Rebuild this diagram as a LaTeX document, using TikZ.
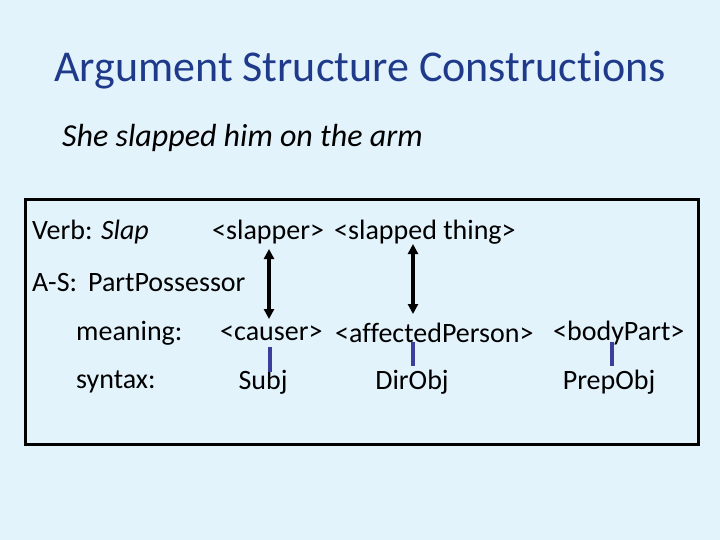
\documentclass[tikz,border=0pt]{standalone}
\usepackage{fontspec}
\setmainfont{Carlito}[RawFeature=-liga]
\usetikzlibrary{arrows.meta}
\definecolor{bg}{HTML}{E3F3FC}
\definecolor{ttl}{HTML}{1F3A8A}
\definecolor{bar}{HTML}{3B3F9C}
\tikzset{txt/.style={anchor=west,inner sep=0pt,font=\fontsize{28}{30}\selectfont},
 ctxt/.style={inner sep=0pt,font=\fontsize{28}{30}\selectfont},
 dbl/.style={line width=3.5pt,{Triangle[length=10pt,width=10pt]}-{Triangle[length=10pt,width=10pt]}},
 barline/.style={bar,line width=3.5pt}}
\begin{document}
\begin{tikzpicture}[x=1pt,y=-1pt]
\fill[bg] (0,0) rectangle (720,540);
\useasboundingbox (0,0) rectangle (720,540);
\node[ttl,font=\fontsize{44}{48}\selectfont,inner sep=0pt] (title) at (360,70) {Argument Structure Constructions};
\node[anchor=west,inner sep=0pt,font=\fontsize{32}{34}\selectfont\itshape] (sent) at (62,138) {She slapped him on the arm};
\node[draw,line width=3pt,minimum width=673pt,minimum height=245pt,anchor=north west,inner sep=0pt] (box) at (24,198) {};
\node[txt] (verb) at (32,232) {Verb: \textit{Slap}};
\node[txt] (slapper) at (212,232) {<slapper>};
\node[txt] (thing) at (334,232) {<slapped thing>};
\node[txt] (as) at (32,283) {A-S:\, PartPossessor};
\node[txt] (meaning) at (76,333) {meaning:};
\node[txt] (causer) at (220,333) {<causer>};
\node[txt] (aff) at (335,333) {<affectedPerson>};
\node[txt] (body) at (553,333) {<bodyPart>};
\node[txt] (syntax) at (76,382) {syntax:};
\node[ctxt] (subj) at (263,382) {Subj};
\node[ctxt] (dir) at (412,382) {DirObj};
\node[ctxt] (prep) at (609,382) {PrepObj};
\coordinate (a1t) at (269,249); \coordinate (a1b) at (269,319);
\coordinate (a2t) at (413,244); \coordinate (a2b) at (413,314);
\draw[dbl] (a1t) -- (a1b);
\draw[dbl] (a2t) -- (a2b);
\coordinate (b1t) at (270,347); \coordinate (b1b) at (270,372);
\coordinate (b2t) at (413,342); \coordinate (b2b) at (413,366);
\coordinate (b3t) at (612,342); \coordinate (b3b) at (612,366);
\draw[barline] (b1t) -- (b1b);
\draw[barline] (b2t) -- (b2b);
\draw[barline] (b3t) -- (b3b);
\end{tikzpicture}
\end{document}
